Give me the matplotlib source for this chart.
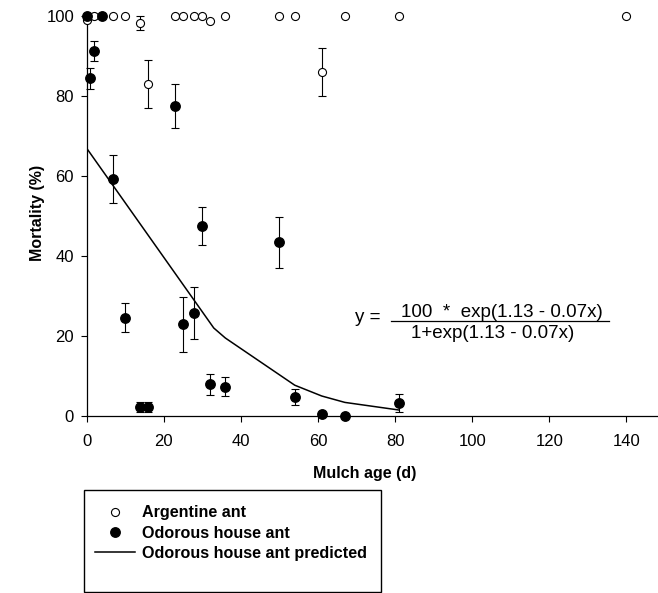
import matplotlib

matplotlib.use("Agg")
import matplotlib.pyplot as plt
from matplotlib.lines import Line2D
from matplotlib.patches import Rectangle

plt.rcParams["font.family"] = ["Liberation Sans", "DejaVu Sans"]

# Argentine ant (open circles)
arg_x = [0, 2, 7, 10, 14, 16, 23, 25, 28, 30, 32, 36, 50, 54, 61, 67, 81, 140]
arg_y = [99, 100, 100, 100, 98.2, 83, 100, 100, 100, 100, 98.8, 100, 100, 100, 86, 100, 100, 100]
arg_err = [0, 0, 0, 0, 1.7, 6, 0, 0, 0, 0, 0, 0, 0, 0, 6, 0, 0, 0]

# Odorous house ant (filled circles)
oha_x = [0, 1, 2, 4, 7, 10, 14, 16, 23, 25, 28, 30, 32, 36, 50, 54, 61, 67, 81]
oha_y = [100, 84.4, 91.3, 100, 59.3, 24.6, 2.3, 2.3, 77.5, 22.9, 25.7, 47.5, 7.9, 7.3, 43.4, 4.7, 0.5, 0, 3.3]
oha_err = [0, 2.7, 2.5, 0, 6, 3.7, 1.2, 1.2, 5.5, 6.9, 6.5, 4.7, 2.6, 2.4, 6.4, 2, 0, 0, 2.2]

# predicted curve
pred_x = [0, 33, 36, 54, 61, 67, 81]
pred_y = [67, 22, 19.5, 7.7, 5, 3.4, 1.5]

W, H = 658, 593
fig = plt.figure(figsize=(W / 100, H / 100), dpi=100)
ax = fig.add_axes([86.5 / W, 1 - 416 / H, (W - 86.5) / W, 400 / H])

ax.errorbar(arg_x, arg_y, yerr=arg_err, fmt="o", ms=5.8, mfc="white", mec="black",
            mew=0.8, ecolor="black", elinewidth=0.8, capsize=2.8, capthick=0.8,
            clip_on=False, zorder=3)
ax.errorbar(oha_x, oha_y, yerr=oha_err, fmt="o", ms=6.8, mfc="black", mec="black",
            ecolor="black", elinewidth=0.8, capsize=2.8, capthick=0.8,
            clip_on=False, zorder=4)
ax.plot(pred_x, pred_y, color="black", lw=1.1, zorder=2)

ax.set_xlim(0, 148.2)
ax.set_ylim(0, 100)
ax.set_xticks(range(0, 141, 20))
ax.set_yticks(range(0, 101, 20))
for s in ("top", "right"):
    ax.spines[s].set_visible(False)
for s in ("left", "bottom"):
    ax.spines[s].set_linewidth(0.9)
ax.tick_params(direction="out", length=4, width=0.8, labelsize=12)
ax.tick_params(axis="x", pad=9)
ax.tick_params(axis="y", pad=5)

ax.set_xlabel("Mulch age (d)", fontsize=11.5, fontweight="bold")
ax.xaxis.set_label_coords((365 - 86.5) / 571.5, (416 - 466) / 400)
ax.set_ylabel("Mortality (%)", fontsize=11.5, fontweight="bold", va="center")
ax.yaxis.set_label_coords((37 - 86.5) / 571.5, (416 - 213) / 400)

# equation annotation
eq_size = 13.5
ax.text(69.6, 24.5, "y =", fontsize=eq_size, ha="left", va="center")
ax.text(107.8, 25.9, "100  *  exp(1.13 - 0.07x)", fontsize=eq_size, ha="center", va="center")
ax.text(105.4, 20.5, "1+exp(1.13 - 0.07x)", fontsize=eq_size, ha="center", va="center")
ax.add_line(Line2D([(391 - 86.5) / 571.5, (609 - 86.5) / 571.5],
                   [(416 - 320.7) / 400] * 2, transform=ax.transAxes,
                   color="black", lw=0.9))

# legend box below the axes
fig.patches.append(Rectangle((84 / W, 1 - 592 / H), 297 / W, 102 / H,
                             transform=fig.transFigure, fill=False,
                             edgecolor="black", lw=1.0))
handles = [
    Line2D([], [], ls="none", marker="o", ms=5.8, mfc="white", mec="black", mew=0.8),
    Line2D([], [], ls="none", marker="o", ms=6.8, mfc="black", mec="black"),
    Line2D([], [], color="black", lw=1.1),
]
labels = ["Argentine ant", "Odorous house ant", "Odorous house ant predicted"]
fig.legend(handles, labels, loc="upper left", bbox_to_anchor=(95 / W, 1 - 505.5 / H),
           frameon=False, borderpad=0, borderaxespad=0, handlelength=2.48,
           handletextpad=0.43, labelspacing=0.32,
           prop={"weight": "bold", "size": 11.6})

fig.savefig("out.png", dpi=100)
